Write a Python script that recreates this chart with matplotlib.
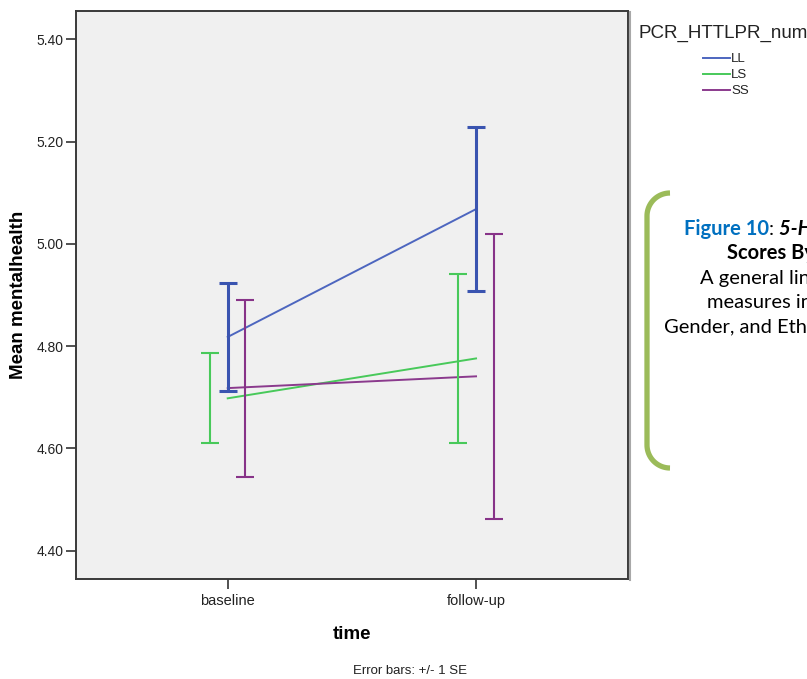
import numpy as np
import matplotlib
matplotlib.use("Agg")
import matplotlib.pyplot as plt

# mean mental health by time and genotype, with +/- 1 SE
times = ["baseline", "follow-up"]
groups = ["LL", "LS", "SS"]
means_ll = [4.818, 5.068]
means_ls = [4.698, 4.776]
means_ss = [4.718, 4.741]
se_ll = [0.105, 0.161]
se_ls = [0.088, 0.166]
se_ss = [0.173, 0.278]
y_ticks = [4.40, 4.60, 4.80, 5.00, 5.20, 5.40]

colors = {"LL": "#4d66bf", "LS": "#48c95a", "SS": "#8b3a8d"}
bar_colors = {"LL": "#3a54b0", "LS": "#48c95a", "SS": "#873388"}
dodge = {"LL": 0.0, "LS": -0.071, "SS": 0.071}

plt.rcParams["font.family"] = ["Liberation Sans", "DejaVu Sans"]

fig = plt.figure(figsize=(8.07, 6.79), dpi=100)
W, H = 807, 679
ax = fig.add_axes([76 / W, 1 - 579 / H, (628 - 76) / W, (579 - 11) / H])
ax.set_facecolor("#f0f0f0")

x = np.arange(len(times))
series = {"LL": (means_ll, se_ll), "LS": (means_ls, se_ls), "SS": (means_ss, se_ss)}
for g in groups:
    m, se = series[g]
    ax.plot(x, m, color=colors[g], lw=1.4, zorder=3)
    ax.errorbar(x + dodge[g], m, yerr=se, fmt="none", ecolor=bar_colors[g],
                elinewidth=2.2 if g == "LL" else 1.5,
                capthick=2.2 if g == "LL" else 1.5, capsize=6.5, zorder=4)

ax.set_xlim(-0.611, 1.612)
ax.set_ylim(4.3447, 5.4554)
ax.set_xticks(x)
ax.set_xticklabels(times)
ax.set_yticks(y_ticks)
ax.set_yticklabels([f"{v:.2f}" for v in y_ticks])
ax.tick_params(axis="both", direction="out", length=7, width=1.2,
               colors="#333333", labelsize=10, labelcolor="#222222", pad=2)
ax.tick_params(axis="x", labelsize=10.5, pad=4)
for s in ax.spines.values():
    s.set_color("#3a3a3a")
    s.set_linewidth(1.4)

ax.set_ylabel("Mean mentalhealth", fontsize=13.5, fontweight="bold", labelpad=7)
ax.set_xlabel("time", fontsize=13.5, fontweight="bold", labelpad=13)

# overlay in pixel coordinates for the legend, footnote and side note
ov = fig.add_axes([0, 0, 1, 1], zorder=5)
ov.set_xlim(0, W)
ov.set_ylim(H, 0)
ov.axis("off")
ov.patch.set_alpha(0)

# soft shadow along the right edge of the frame
ov.plot([629.5, 629.5], [12, 580], color="#a8a8a8", lw=1.5)

ov.text(410, 671, "Error bars: +/- 1 SE", fontsize=9.5, ha="center", va="center",
        color="#222222")

# legend
ov.text(638, 33, "PCR_HTTLPR_num", fontsize=13.5, ha="left", va="center", color="#222222")
for i, g in enumerate(groups):
    yy = 58 + 16 * i
    ov.plot([703, 730], [yy, yy], color=colors[g], lw=1.4)
    ov.text(731, yy + 0.5, g, fontsize=9.5, ha="left", va="center", color="#222222")

# green bracket beside the caption
r = 23
bx = np.concatenate([670 + r * np.cos(np.linspace(1.5 * np.pi, np.pi, 30)),
                     [647, 647],
                     670 + r * np.cos(np.linspace(np.pi, 0.5 * np.pi, 30))])
by = np.concatenate([193 + r + r * np.sin(np.linspace(1.5 * np.pi, np.pi, 30)),
                     [193 + r, 468 - r],
                     468 - r + r * np.sin(np.linspace(np.pi, 0.5 * np.pi, 30))])
ov.plot(bx, by, color="#9bbb59", lw=3.8, solid_capstyle="butt")

cap_font = ["Lato", "DejaVu Sans"]
fig.canvas.draw()
renderer = fig.canvas.get_renderer()


def text_run(xp, yp, parts):
    # draw consecutive text pieces on one baseline
    for s, kw in parts:
        t = ov.text(xp, yp, s, fontsize=14.5, ha="left", va="baseline", family=cap_font, **kw)
        bb = t.get_window_extent(renderer)
        xp += bb.width * W / fig.bbox.width


text_run(684, 235, [("Figure 10", dict(color="#0070c0", fontweight="bold")),
                    (": ", dict(color="black")),
                    ("5-HTTLPR Genotype and Mental Health", dict(color="black", fontweight="bold", style="italic"))])
text_run(727, 259, [("Scores By Time", dict(color="black", fontweight="bold"))])
text_run(700, 284, [("A general linear model of repeated", dict(color="black"))])
text_run(707, 308, [("measures including Genotype,", dict(color="black"))])
text_run(664, 333, [("Gender, and Ethnicity", dict(color="black"))])

fig.savefig("out.png", dpi=100)
